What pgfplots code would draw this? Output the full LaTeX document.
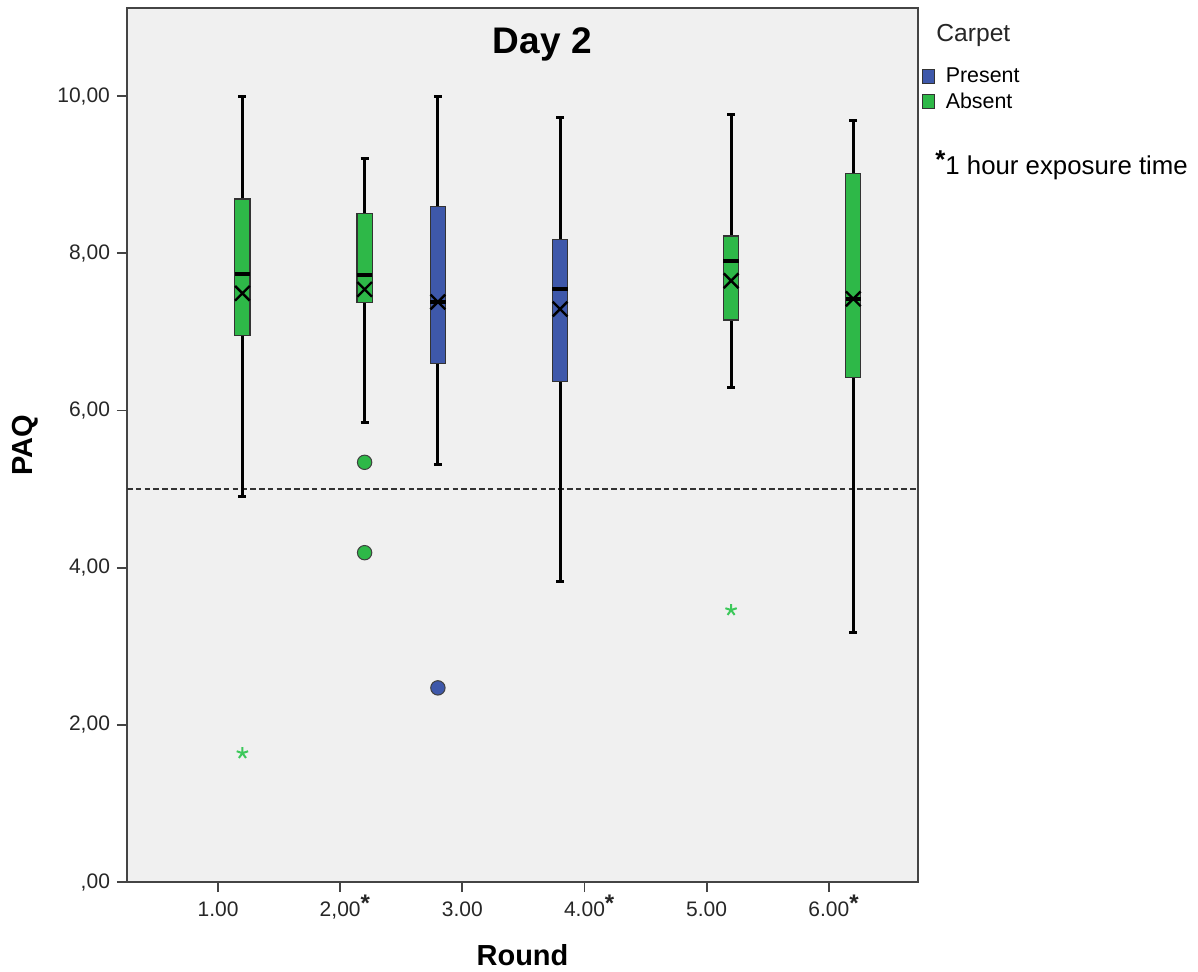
\documentclass[border=0pt]{standalone}
\usepackage{pgfplots}
\pgfplotsset{compat=1.18}
\usepgfplotslibrary{statistics}
\usepackage{fontspec}
\setmainfont{Liberation Sans}
\definecolor{pblue}{HTML}{3E58AA}
\definecolor{agreen}{HTML}{2EB848}
\definecolor{sgreen}{HTML}{3CC85A}
\definecolor{bggray}{HTML}{F0F0F0}
\definecolor{axgray}{HTML}{444444}
\newcommand{\tstar}{\rlap{\smash{\raisebox{2.5pt}{\fontsize{12}{12}\selectfont\textbf{*}}}}}
\begin{document}
\begin{tikzpicture}
\path[use as bounding box] (-63.5pt,-44.5pt) rectangle (535.5pt,441pt);
\begin{axis}[
  at={(0,0)}, anchor=south west,
  scale only axis, width=395.5pt, height=437pt,
  xmin=0.255, xmax=6.73, ymin=0, ymax=11.12,
  clip=false,
  axis background/.style={fill=bggray},
  axis line style={axgray, line width=0.9pt},
  tick style={axgray, line width=0.9pt},
  major tick length=5pt,
  tick align=outside,
  tick pos=left,
  xtick={1,2,3,4,5,6},
  xticklabels={1.00,{2,00\tstar},3.00,{4.00\tstar},5.00,{6.00\tstar}},
  ytick={0,2,4,6,8,10},
  yticklabels={{,00},{2,00},{4,00},{6,00},{8,00},{10,00}},
  ticklabel style={font=\fontsize{10.5}{12}\selectfont, text=black!85},
  xticklabel style={yshift=-1.5pt},
  xlabel={Round},
  xlabel style={font=\bfseries\fontsize{14.5}{16}\selectfont, at={(axis description cs:0.5,-0.0835)}, anchor=center},
  ylabel={PAQ},
  ylabel style={font=\bfseries\fontsize{14.5}{16}\selectfont, at={(axis description cs:-0.1290,0.5)}, anchor=center},
  boxplot/draw direction=y,
  boxplot/box extend=0.125,
  boxplot/whisker extend=0.066,
  boxplot/every box/.style={draw=black!80, line width=0.6pt},
  boxplot/every whisker/.style={draw=black, line width=1.5pt},
  boxplot/every median/.style={draw=black, line width=2pt},
  legend style={at={(rel axis cs:1.005,0.935)}, anchor=north west, draw=none, fill=none,
    font=\fontsize{10.7}{12}\selectfont, inner sep=0pt, row sep=1.2pt, column sep=4pt, nodes={inner sep=1.2pt}},
  legend cell align=left,
]
\addlegendimage{legend image code/.code={\draw[fill=pblue, draw=black!80, line width=0.5pt] (0pt,-3.6pt) rectangle (6pt,3.6pt);}}
\addlegendentry{Present}
\addlegendimage{legend image code/.code={\draw[fill=agreen, draw=black!80, line width=0.5pt] (0pt,-3.6pt) rectangle (6pt,3.6pt);}}
\addlegendentry{Absent}

% reference line
\addplot[black!80, line width=1.1pt, dash pattern=on 2.8pt off 1.6pt, forget plot] coordinates {(0.255,5) (6.73,5)};

% Round 1, Absent
\addplot[draw=black, fill=agreen, forget plot, boxplot prepared={draw position=1.2,
  lower whisker=4.90, lower quartile=6.95, median=7.74, upper quartile=8.69, upper whisker=10.00}] coordinates {};
% Round 2, Absent
\addplot[draw=black, fill=agreen, forget plot, boxplot prepared={draw position=2.2,
  lower whisker=5.84, lower quartile=7.37, median=7.72, upper quartile=8.51, upper whisker=9.20}] coordinates {};
% Round 3, Present
\addplot[draw=black, fill=pblue, forget plot, boxplot prepared={draw position=2.8,
  lower whisker=5.31, lower quartile=6.60, median=7.38, upper quartile=8.59, upper whisker=10.00}] coordinates {};
% Round 4, Present
\addplot[draw=black, fill=pblue, forget plot, boxplot prepared={draw position=3.8,
  lower whisker=3.82, lower quartile=6.37, median=7.54, upper quartile=8.17, upper whisker=9.73}] coordinates {};
% Round 5, Absent
\addplot[draw=black, fill=agreen, forget plot, boxplot prepared={draw position=5.2,
  lower whisker=6.29, lower quartile=7.15, median=7.90, upper quartile=8.22, upper whisker=9.77}] coordinates {};
% Round 6, Absent
\addplot[draw=black, fill=agreen, forget plot, boxplot prepared={draw position=6.2,
  lower whisker=3.17, lower quartile=6.42, median=7.42, upper quartile=9.01, upper whisker=9.69}] coordinates {};

% means
\addplot[only marks, mark=x, mark size=5.2pt, mark options={draw=black, line width=1.2pt}, forget plot]
  coordinates {(1.2,7.49) (2.2,7.54) (2.8,7.38) (3.8,7.29) (5.2,7.65) (6.2,7.42)};

% outliers
\addplot[only marks, mark=*, mark size=3.6pt, mark options={fill=agreen, draw=black!75, line width=0.5pt}, forget plot]
  coordinates {(2.2,5.34) (2.2,4.19)};
\addplot[only marks, mark=*, mark size=3.6pt, mark options={fill=pblue, draw=black!75, line width=0.5pt}, forget plot]
  coordinates {(2.8,2.47)};
% extremes
\addplot[only marks, mark=star, mark size=3pt, mark options={draw=sgreen, line width=1pt}, forget plot]
  coordinates {(1.2,1.64) (5.2,3.46)};

\node[font=\bfseries\fontsize{18.5}{20}\selectfont] at (rel axis cs:0.525,0.958) {Day 2};
\node[anchor=west, font=\fontsize{12.3}{14}\selectfont, inner sep=0pt, text=black!85] at (rel axis cs:1.0228,0.969) {Carpet};
\node[anchor=west, font=\fontsize{12.9}{14}\selectfont, inner sep=0pt] at (rel axis cs:1.0215,0.8204) {\raisebox{3pt}{\textbf{*}}1 hour exposure time};
\end{axis}
\end{tikzpicture}
\end{document}
